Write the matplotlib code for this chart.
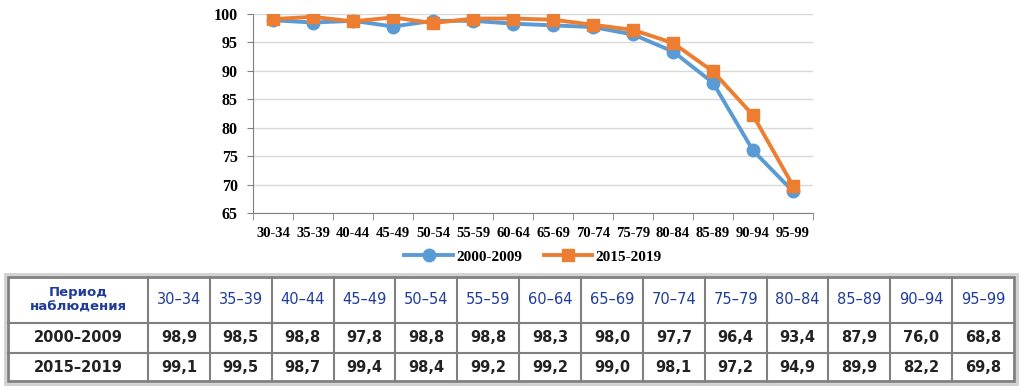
import numpy as np
import matplotlib.pyplot as plt
from matplotlib.patches import Rectangle

ages = ["30-34", "35-39", "40-44", "45-49", "50-54", "55-59", "60-64",
        "65-69", "70-74", "75-79", "80-84", "85-89", "90-94", "95-99"]
s2000 = [98.9, 98.5, 98.8, 97.8, 98.8, 98.8, 98.3, 98.0, 97.7, 96.4, 93.4, 87.9, 76.0, 68.8]
s2015 = [99.1, 99.5, 98.7, 99.4, 98.4, 99.2, 99.2, 99.0, 98.1, 97.2, 94.9, 89.9, 82.2, 69.8]
lbl2000 = "2000-2009"
lbl2015 = "2015-2019"
row_head = "Период\nнаблюдения"

W, H = 1024, 389
fig = plt.figure(figsize=(W / 100, H / 100), dpi=100)

# ---- line chart
ax = fig.add_axes([253 / W, 1 - 213 / H, (813 - 253) / W, (213 - 14) / H])
x = np.arange(len(ages))
blue = "#5b9bd5"
orange = "#ed7d31"
ax.plot(x, s2000, color=blue, lw=2.8, marker="o", ms=9, label=lbl2000, zorder=3)
ax.plot(x, s2015, color=orange, lw=2.8, marker="s", ms=8.5, label=lbl2015, zorder=4)
ax.set_xlim(-0.5, len(ages) - 0.5)
ax.set_ylim(65, 100)
ax.set_yticks(np.arange(65, 101, 5))
ax.yaxis.grid(True, color="#d9d9d9", lw=1)
ax.set_axisbelow(True)
ax.set_xticks(x)
ax.set_xticklabels(ages)
ax.set_xticks(np.arange(-0.5, len(ages), 1), minor=True)
ax.tick_params(axis="x", which="major", length=0, pad=10)
ax.tick_params(axis="x", which="minor", length=5, color="#808080")
ax.tick_params(axis="y", length=4, color="#808080", pad=7)
for t in ax.get_xticklabels():
    t.set_fontfamily("Liberation Serif")
    t.set_fontweight("bold")
    t.set_fontsize(10.5)
for t in ax.get_yticklabels():
    t.set_fontfamily("Liberation Serif")
    t.set_fontweight("bold")
    t.set_fontsize(11.5)
for s in ["top", "right"]:
    ax.spines[s].set_visible(False)
ax.spines["left"].set_color("#808080")
ax.spines["bottom"].set_color("#808080")
leg = ax.legend(loc="center", bbox_to_anchor=(0.5, -0.22), ncol=2, frameon=False,
                prop={"family": "Liberation Serif", "weight": "bold", "size": 11},
                handlelength=3.2, columnspacing=1.4, handletextpad=0.2)

# ---- table
tx = fig.add_axes([0, 0, 1, 1])
tx.set_xlim(0, W)
tx.set_ylim(H, 0)
tx.axis("off")
left, right = 8, 1014
first_w = 140
col_w = (right - left - first_w) / len(ages)
rows_y = [277, 323, 353, 381]
gray = "#808080"
tx.add_patch(Rectangle((left - 3, rows_y[0] - 3), right - left + 6, rows_y[-1] - rows_y[0] + 6,
                       fill=False, ec="#d0d0d0", lw=2))
tx.add_patch(Rectangle((left, rows_y[0]), right - left, rows_y[-1] - rows_y[0],
                       fill=False, ec=gray, lw=2))
for yy in rows_y[1:-1]:
    tx.plot([left, right], [yy, yy], color=gray, lw=1.5)
col_x = [left, left + first_w] + [left + first_w + col_w * (i + 1) for i in range(len(ages))]
for xx in col_x[1:-1]:
    tx.plot([xx, xx], [rows_y[0], rows_y[-1]], color=gray, lw=1.5)

tfont = "DejaVu Sans"
hdr_col = "#1f3c99"
fs = 10.5
tx.text(left + first_w / 2, (rows_y[0] + rows_y[1]) / 2, row_head, ha="center", va="center",
        fontsize=9.5, fontweight="bold", color=hdr_col, family=tfont, linespacing=1.15)
tx.text(left + first_w / 2, (rows_y[1] + rows_y[2]) / 2, lbl2000.replace("-", "–"),
        ha="center", va="center", fontsize=fs, fontweight="bold", color="#222222", family=tfont)
tx.text(left + first_w / 2, (rows_y[2] + rows_y[3]) / 2, lbl2015.replace("-", "–"),
        ha="center", va="center", fontsize=fs, fontweight="bold", color="#222222", family=tfont)
for i, a in enumerate(ages):
    cx = col_x[i + 1] + col_w / 2
    tx.text(cx, (rows_y[0] + rows_y[1]) / 2, a.replace("-", "–"), ha="center", va="center",
            fontsize=fs, color=hdr_col, family=tfont)
    tx.text(cx, (rows_y[1] + rows_y[2]) / 2, f"{s2000[i]:.1f}".replace(".", ","), ha="center",
            va="center", fontsize=fs, fontweight="bold", color="#222222", family=tfont)
    tx.text(cx, (rows_y[2] + rows_y[3]) / 2, f"{s2015[i]:.1f}".replace(".", ","), ha="center",
            va="center", fontsize=fs, fontweight="bold", color="#222222", family=tfont)

fig.savefig("out.png", dpi=100)
